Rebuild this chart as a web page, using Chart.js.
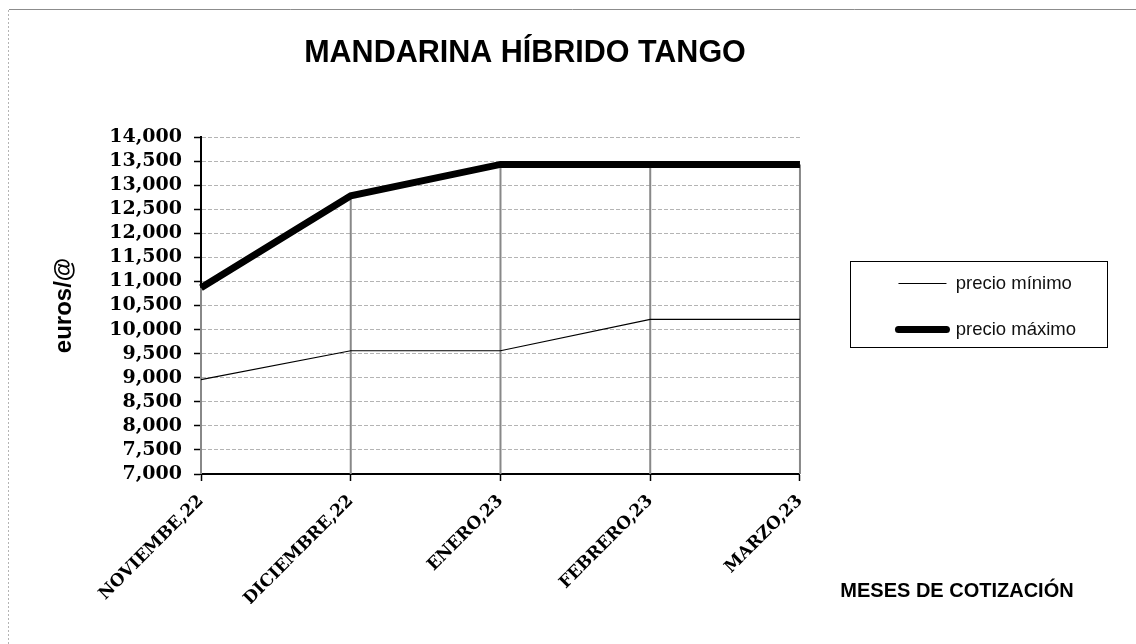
<!DOCTYPE html>
<html>
<head>
<meta charset="utf-8">
<script src="https://cdn.jsdelivr.net/npm/chart.js@4.4.0/dist/chart.umd.min.js"></script>
<style>
html,body{margin:0;padding:0;background:#fff;}
#wrap{width:1136px;height:644px;position:relative;}
canvas{display:block;}
</style>
</head>
<body>
<div id="wrap"><canvas id="c" width="1136" height="644"></canvas></div>
<script>
// ---- data ----
const chartTitle = 'MANDARINA HÍBRIDO TANGO';
const xAxisTitle = 'MESES DE COTIZACIÓN';
const yAxisTitle = 'euros/@';
const categories = ['NOVIEMBE,22', 'DICIEMBRE,22', 'ENERO,23', 'FEBRERO,23', 'MARZO,23'];
const seriesNames = ['precio mínimo', 'precio máximo'];
const precioMinimo = [8960, 9560, 9560, 10210, 10210];
const precioMaximo = [10870, 12780, 13430, 13430, 13430];
const yMin = 7000;
const yMax = 14000;
const yStep = 500;

// ---- plugins ----
const framePlugin = {
  id: 'frame',
  beforeDraw(chart) {
    const ctx = chart.ctx;
    ctx.save();
    ctx.fillStyle = '#fff';
    ctx.fillRect(0, 0, chart.width, chart.height);
    ctx.strokeStyle = '#8c8c8c';
    ctx.lineWidth = 1;
    ctx.beginPath();
    ctx.moveTo(9, 9.5);
    ctx.lineTo(chart.width, 9.5);
    ctx.stroke();
    ctx.strokeStyle = '#b4b4b4';
    ctx.setLineDash([2, 2]);
    ctx.beginPath();
    ctx.moveTo(8.5, 10);
    ctx.lineTo(8.5, chart.height);
    ctx.stroke();
    ctx.restore();
  }
};

// move the legend block a little to the right of the plot, as in the reference
const legendShiftPlugin = {
  id: 'legendShift',
  afterLayout(chart) {
    const lg = chart.legend;
    if (!lg) return;
    lg.left += 71; lg.right += 71;
    lg.top += 1; lg.bottom += 1;
  }
};

const dropLinesPlugin = {
  id: 'dropLines',
  beforeDatasetsDraw(chart) {
    const meta = chart.getDatasetMeta(1);
    const ctx = chart.ctx;
    const bottom = chart.chartArea.bottom;
    ctx.save();
    ctx.strokeStyle = '#888888';
    ctx.lineWidth = 2;
    meta.data.forEach(p => {
      ctx.beginPath();
      ctx.moveTo(p.x, p.y);
      ctx.lineTo(p.x, bottom);
      ctx.stroke();
    });
    ctx.restore();
  }
};

const legendFramePlugin = {
  id: 'legendFrame',
  afterDraw(chart) {
    const hb = chart.legend && chart.legend.legendHitBoxes;
    if (!hb || hb.length < 2) return;
    const ctx = chart.ctx;
    const left = Math.round(hb[0].left - 48) + 0.5;
    const right = Math.round(hb[0].left + 209) + 0.5;
    const top = Math.round(hb[0].top - 13) + 0.5;
    const bottom = Math.round(hb[1].top + hb[1].height + 8) + 0.5;
    ctx.save();
    ctx.strokeStyle = '#000';
    ctx.lineWidth = 1;
    ctx.strokeRect(left, top, right - left, bottom - top);
    ctx.restore();
  }
};

const textsPlugin = {
  id: 'texts',
  afterDraw(chart) {
    const ctx = chart.ctx;
    ctx.save();
    ctx.fillStyle = '#000';
    ctx.textAlign = 'center';
    ctx.textBaseline = 'middle';
    ctx.font = 'bold 30.5px "Liberation Sans", Arial, sans-serif';
    ctx.fillText(chartTitle, 525, 54);
    ctx.font = 'bold 20px "Liberation Sans", Arial, sans-serif';
    ctx.fillText(xAxisTitle, 957, 591);
    ctx.restore();
  }
};

// ---- chart ----
const ctx = document.getElementById('c').getContext('2d');
new Chart(ctx, {
  type: 'line',
  data: {
    labels: categories,
    datasets: [
      {
        label: seriesNames[0],
        data: precioMinimo,
        borderColor: '#000',
        backgroundColor: '#000',
        borderWidth: 1.2,
        pointRadius: 0,
        pointHoverRadius: 0,
        tension: 0,
        fill: false
      },
      {
        label: seriesNames[1],
        data: precioMaximo,
        borderColor: '#000',
        backgroundColor: '#000',
        borderWidth: 7,
        pointRadius: 0,
        pointHoverRadius: 0,
        tension: 0,
        fill: false
      }
    ]
  },
  options: {
    responsive: false,
    animation: false,
    devicePixelRatio: 1,
    events: [],
    layout: { padding: { top: 137, left: 10, right: 121, bottom: 40 } },
    plugins: {
      title: { display: false },
      tooltip: { enabled: false },
      legend: {
        display: true,
        position: 'right',
        align: 'center',
        fullSize: false,
        labels: {
          usePointStyle: true,
          pointStyle: 'line',
          pointStyleWidth: 48,
          padding: 27.5,
          color: '#111',
          font: { family: '"Liberation Sans", Arial, sans-serif', size: 18.5 },
          generateLabels(chart) {
            const items = Chart.defaults.plugins.legend.labels.generateLabels(chart);
            items.forEach((it, i) => { it.lineCap = i === 1 ? 'round' : 'butt'; });
            return items;
          }
        }
      }
    },
    scales: {
      x: {
        offset: false,
        ticks: {
          color: '#000',
          font: { family: '"DejaVu Serif", serif', weight: 'bold', size: 17 },
          minRotation: 45,
          maxRotation: 45,
          autoSkip: false,
          padding: 10
        },
        grid: { display: true, drawOnChartArea: false, drawTicks: true, tickLength: 7, tickColor: '#000', tickWidth: 1.5 },
        border: { color: '#000', width: 2 },
        afterFit(s) { s.height = 130; }
      },
      y: {
        min: yMin,
        max: yMax,
        ticks: {
          stepSize: yStep,
          maxTicksLimit: 30,
          autoSkip: false,
          color: '#000',
          padding: 12,
          font: { family: '"DejaVu Serif", serif', weight: 'bold', size: 19 },
          callback: v => v.toLocaleString('en-US')
        },
        grid: { color: '#b4b4b4', lineWidth: 1, tickColor: '#000', tickLength: 7, tickWidth: 1.5 },
        border: { color: '#000', width: 2, dash: [4, 2] },
        title: {
          display: true,
          text: yAxisTitle,
          color: '#000',
          font: { family: '"Liberation Sans", Arial, sans-serif', weight: 'bold', size: 24 },
          padding: { top: 40, bottom: 0 }
        },
        afterFit(s) { s.width = 191; }
      }
    }
  },
  plugins: [framePlugin, legendShiftPlugin, dropLinesPlugin, legendFramePlugin, textsPlugin]
});
</script>
</body>
</html>
